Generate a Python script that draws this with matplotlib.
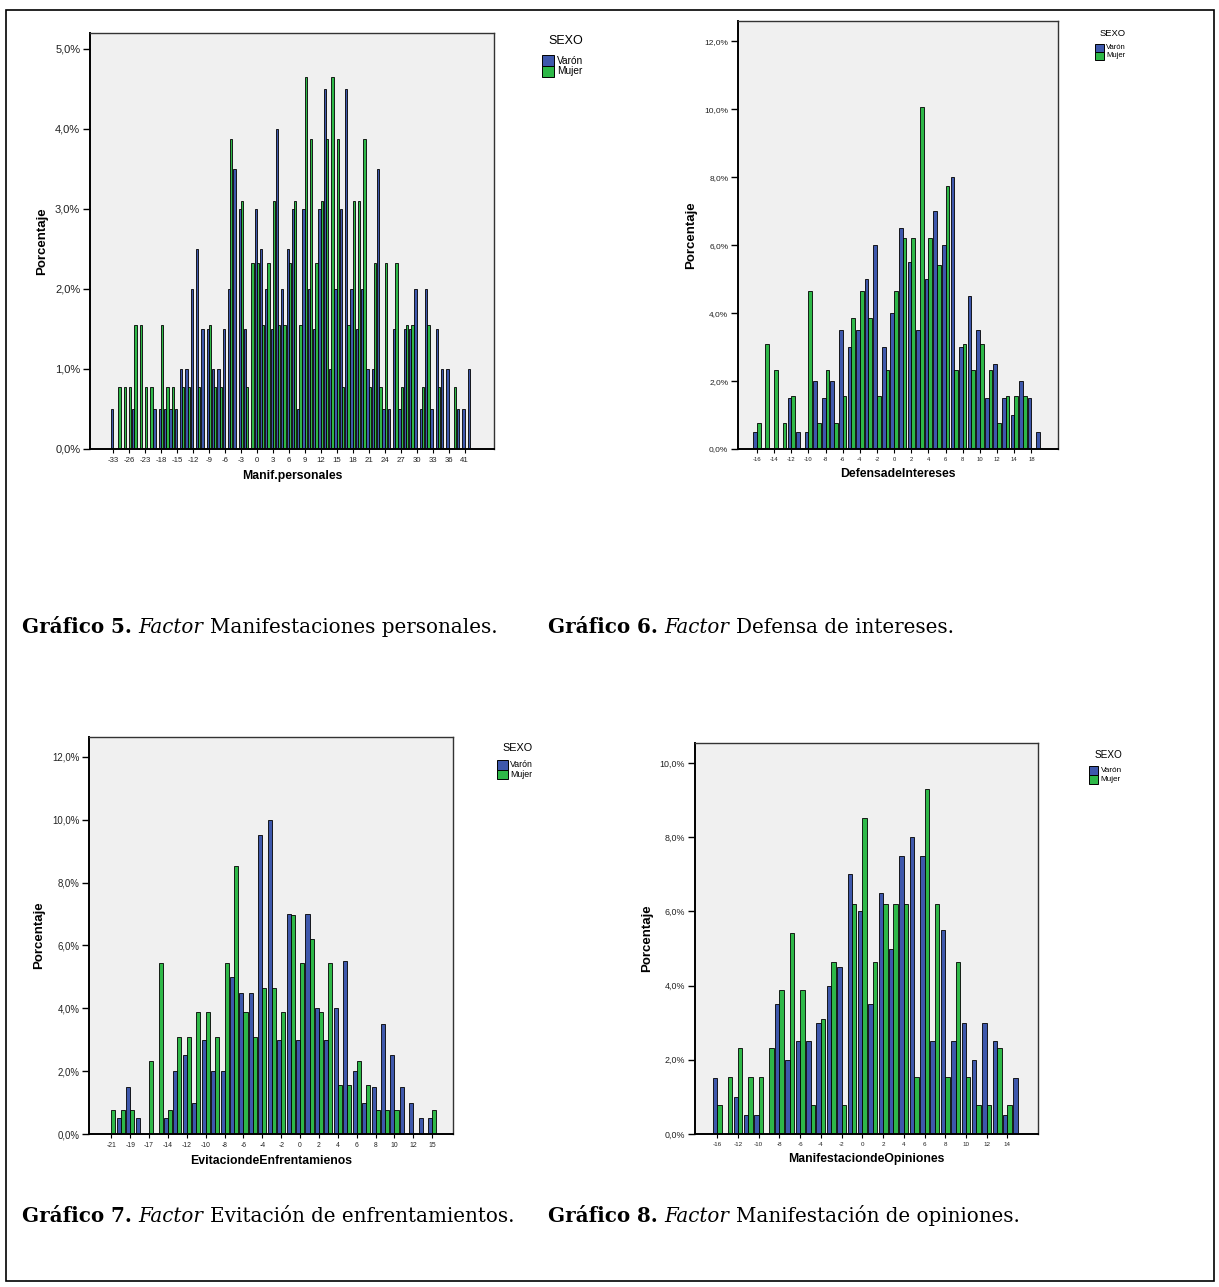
import numpy as np
import matplotlib.pyplot as plt
from matplotlib.patches import Rectangle
from matplotlib.ticker import FuncFormatter

W, H = 1219, 1287
BLUE = '#3E58AC'
GREEN = '#2EB848'
BG = '#F0F0F0'

# ---- Grafico 5: Manif.personales (68 categorias) ----
ticks1 = ['-33', '-26', '-23', '-18', '-15', '-12', '-9', '-6', '-3', '0', '3', '6',
          '9', '12', '15', '18', '21', '24', '27', '30', '33', '36', '41']
varon1 = [0.5, 0, 0, 0, 0.5, 0, 0, 0, 0.5, 0.5,
          0.5, 0.5, 0.5, 1.0, 1.0, 2.0, 2.5, 1.5, 1.5, 1.0,
          1.0, 1.5, 2.0, 3.5, 3.0, 1.5, 0, 3.0, 2.5, 2.0,
          1.5, 4.0, 2.0, 2.5, 3.0, 0.5, 3.0, 2.0, 1.5, 3.0,
          4.5, 1.0, 2.0, 3.0, 4.5, 2.0, 1.5, 2.0, 1.0, 1.0,
          3.5, 0.5, 0.5, 1.5, 0.5, 1.5, 1.5, 2.0, 0.5, 2.0,
          0.5, 1.5, 1.0, 1.0, 0, 0.5, 0.5, 1.0]
mujer1 = [0, 0.775, 0.775, 0.775, 1.55, 1.55, 0.775, 0.775, 0, 1.55,
          0.775, 0.775, 0, 0.775, 0.775, 0, 0.775, 0, 1.55, 0.775,
          0.775, 0, 3.87, 0, 3.1, 0.775, 2.33, 2.33, 1.55, 2.33,
          3.1, 1.55, 1.55, 2.33, 3.1, 1.55, 4.65, 3.87, 2.33, 3.1,
          3.87, 4.65, 3.87, 0.775, 1.55, 3.1, 3.1, 3.87, 0.775, 2.33,
          0.775, 2.33, 0, 2.33, 0.775, 1.55, 1.55, 0, 0.775, 1.55,
          0, 0.775, 0, 0, 0.775, 0, 0, 0]

# ---- Grafico 6: DefensadeIntereses (34 categorias) ----
ticks2 = ['-16', '-14', '-12', '-10', '-8', '-6', '-4', '-2', '0', '2', '4', '6',
          '8', '10', '12', '14', '18']
varon2 = [0.5, 0, 0, 0, 1.5, 0.5, 0.5, 2.0, 1.5, 2.0,
          3.5, 3.0, 3.5, 5.0, 6.0, 3.0, 4.0, 6.5, 5.5, 3.5,
          5.0, 7.0, 6.0, 8.0, 3.0, 4.5, 3.5, 1.5, 2.5, 1.5,
          1.0, 2.0, 1.5, 0.5]
mujer2 = [0.775, 3.1, 2.33, 0.775, 1.55, 0, 4.65, 0.775, 2.33, 0.775,
          1.55, 3.87, 4.65, 3.87, 1.55, 2.33, 4.65, 6.2, 6.2, 10.08,
          6.2, 5.43, 7.75, 2.33, 3.1, 2.33, 3.1, 2.33, 0.775, 1.55,
          1.55, 1.55, 0, 0]

# ---- Grafico 7: EvitaciondeEnfrentamienos (35 categorias) ----
ticks3 = ['-21', '-19', '-17', '-14', '-12', '-10', '-8', '-6', '-4', '-2', '0', '2',
          '4', '6', '8', '10', '12', '15']
varon3 = [0, 0.5, 1.5, 0.5, 0, 0, 0.5, 2.0, 2.5, 1.0,
          3.0, 2.0, 2.0, 5.0, 4.5, 4.5, 9.5, 10.0, 3.0, 7.0,
          3.0, 7.0, 4.0, 3.0, 4.0, 5.5, 2.0, 1.0, 1.5, 3.5,
          2.5, 1.5, 1.0, 0.5, 0.5]
mujer3 = [0.775, 0.775, 0.775, 0, 2.33, 5.43, 0.775, 3.1, 3.1, 3.87,
          3.87, 3.1, 5.43, 8.53, 3.87, 3.1, 4.65, 4.65, 3.87, 6.98,
          5.43, 6.2, 3.87, 5.43, 1.55, 1.55, 2.33, 1.55, 0.775, 0.775,
          0.775, 0, 0, 0, 0.775]

# ---- Grafico 8: ManifestaciondeOpiniones (30 categorias) ----
ticks4 = ['-16', '-12', '-10', '-8', '-6', '-4', '-2', '0', '2', '4', '6', '8',
          '10', '12', '14']
varon4 = [1.5, 0, 1.0, 0.5, 0.5, 0, 3.5, 2.0, 2.5, 2.5,
          3.0, 4.0, 4.5, 7.0, 6.0, 3.5, 6.5, 5.0, 7.5, 8.0,
          7.5, 2.5, 5.5, 2.5, 3.0, 2.0, 3.0, 2.5, 0.5, 1.5]
mujer4 = [0.775, 1.55, 2.33, 1.55, 1.55, 2.33, 3.87, 5.43, 3.87, 0.775,
          3.1, 4.65, 0.775, 6.2, 8.53, 4.65, 6.2, 6.2, 6.2, 1.55,
          9.3, 6.2, 1.55, 4.65, 1.55, 0.775, 0.775, 2.33, 0.775, 0]

fig = plt.figure(figsize=(W / 100, H / 100), dpi=100)
fig.patch.set_facecolor('white')


def pct(v, p):
    return ('%.1f%%' % v).replace('.', ',')


def panel(box, varon, mujer, ticks, step, ytop, ystep, ymax, xlabel, pads, s, legend_at):
    l, t, r, b = box
    ax = fig.add_axes([l / W, 1 - b / H, (r - l) / W, (b - t) / H])
    ax.set_facecolor(BG)
    x = np.arange(len(varon))
    w = 0.43
    ax.bar(x - w / 2, varon, w, color=BLUE, edgecolor='black', linewidth=0.6, zorder=2)
    ax.bar(x + w / 2, mujer, w, color=GREEN, edgecolor='black', linewidth=0.6, zorder=2)
    ax.set_xlim(-pads[0], len(varon) - 1 + pads[1])
    ax.set_ylim(0, ytop)
    ax.set_yticks(np.arange(0, ymax + 0.01, ystep))
    ax.yaxis.set_major_formatter(FuncFormatter(pct))
    ax.set_xticks(x[::step][:len(ticks)])
    ax.set_xticklabels(ticks)
    ax.tick_params(axis='y', labelsize=8 * s, length=5, width=1, pad=2, labelcolor='#222')
    ax.tick_params(axis='x', labelsize=5.6 * s, length=3, width=0.8, pad=3, labelcolor='#222')
    for sp in ax.spines.values():
        sp.set_color('#333')
        sp.set_linewidth(1)
    ax.spines['left'].set_color('black')
    ax.spines['bottom'].set_color('black')
    ax.spines['left'].set_linewidth(1.4)
    ax.spines['bottom'].set_linewidth(1.4)
    ax.set_ylabel('Porcentaje', fontsize=9.5, fontweight='bold', labelpad=5)
    ax.set_xlabel(xlabel, fontsize=8.8, fontweight='bold', labelpad=4)

    # leyenda SEXO
    cx, cy = legend_at
    bw, bh = 12 * s, 11 * s
    bx = cx - 24 * s
    fig.text(cx / W, 1 - cy / H, 'SEXO', fontsize=9 * s, ha='center', va='center')
    for k, (lab, col) in enumerate([('Varón', BLUE), ('Mujer', GREEN)]):
        top = cy + 14 * s + k * bh
        fig.add_artist(Rectangle((bx / W, 1 - (top + bh) / H), bw / W, bh / H,
                                 transform=fig.transFigure, facecolor=col,
                                 edgecolor='black', linewidth=0.7))
        fig.text((bx + bw + 3 * s) / W, 1 - (top + bh / 2) / H, lab,
                 fontsize=7.3 * s, ha='left', va='center')
    return ax


plt.rcParams['font.family'] = ['Liberation Sans', 'DejaVu Sans']

panel((90, 33, 494, 449), varon1, mujer1, ticks1, 3, 5.2, 1, 5,
      'Manif.personales', (4.3, 4.5), 1.0, (566, 41))
panel((738, 21, 1058, 449), varon2, mujer2, ticks2, 2, 12.6, 2, 12,
      'DefensadeIntereses', (2.2, 2.1), 0.75, (1113, 33))
panel((89, 737, 453, 1134), varon3, mujer3, ticks3, 2, 12.63, 2, 12,
      'EvitaciondeEnfrentamienos', (2.37, 2.2), 0.87, (518, 748))
panel((695, 743, 1038, 1134), varon4, mujer4, ticks4, 2, 10.54, 2, 10,
      'ManifestaciondeOpiniones', (2.15, 1.95), 0.8, (1108, 755))

# pies de figura
renderer = fig.canvas.get_renderer()


def caption(x_px, y_px, parts, size=14.3):
    x = x_px
    for txt, weight, style in parts:
        t = fig.text(x / W, 1 - y_px / H, txt, fontsize=size, family='DejaVu Serif',
                     fontweight=weight, fontstyle=style, ha='left', va='center')
        x += t.get_window_extent(renderer).width


caption(22, 627, [('Gráfico 5. ', 'bold', 'normal'), ('Factor ', 'normal', 'italic'),
                  ('Manifestaciones personales.', 'normal', 'normal')])
caption(548, 627, [('Gráfico 6. ', 'bold', 'normal'), ('Factor ', 'normal', 'italic'),
                   ('Defensa de intereses.', 'normal', 'normal')])
caption(22, 1216, [('Gráfico 7. ', 'bold', 'normal'), ('Factor ', 'normal', 'italic'),
                   ('Evitación de enfrentamientos.', 'normal', 'normal')])
caption(548, 1216, [('Gráfico 8. ', 'bold', 'normal'), ('Factor ', 'normal', 'italic'),
                    ('Manifestación de opiniones.', 'normal', 'normal')])

# marco exterior
fig.add_artist(Rectangle((6 / W, 1 - 1281 / H), 1208 / W, 1271 / H,
                         transform=fig.transFigure, fill=False,
                         edgecolor='black', linewidth=1.2))

fig.savefig('out.png', dpi=100)
